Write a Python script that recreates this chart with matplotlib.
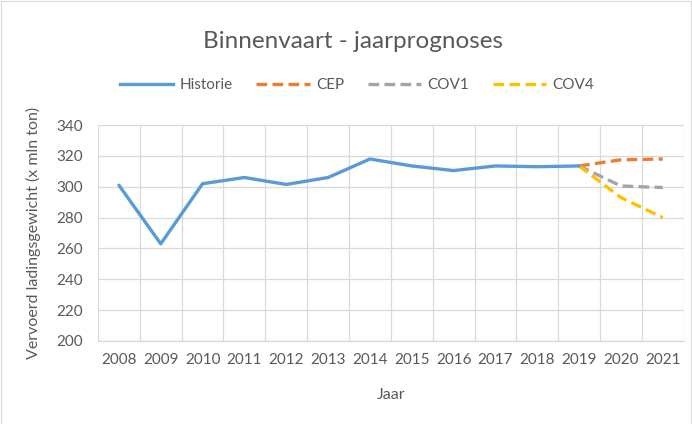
import matplotlib
matplotlib.use("Agg")
import matplotlib.pyplot as plt
from matplotlib.lines import Line2D
from matplotlib.patches import Rectangle

# data
jaren = ["2008", "2009", "2010", "2011", "2012", "2013", "2014",
         "2015", "2016", "2017", "2018", "2019", "2020", "2021"]
historie = [301, 263, 302, 306, 301.5, 306, 318, 313.5, 310.5, 313.5, 313, 313.5]
cep = [313.5, 317.5, 318]
cov1 = [313.5, 300.5, 299.5]
cov4 = [313.5, 293, 280]

plt.rcParams['font.family'] = ['Lato', 'DejaVu Sans']
tekst = '#595959'
raster = '#d9d9d9'

fig = plt.figure(figsize=(6.92, 4.24), dpi=100)
fig.patches.append(Rectangle((0.001, 0.001), 0.997, 0.997, transform=fig.transFigure,
                             fill=False, edgecolor='#d9d9d9', linewidth=0.8))
ax = fig.add_axes([0.1416, 0.1958, 0.8464, 0.5092])

x_hist = list(range(len(historie)))
x_prog = list(range(len(historie) - 1, len(jaren)))

lw = 2.4
ax.plot(x_hist, historie, color='#5B9BD5', lw=lw, solid_capstyle='round', zorder=5)
ax.plot(x_prog, cep, color='#ED7D31', lw=lw, dashes=(3.2, 1.6), zorder=4)
ax.plot(x_prog, cov1, color='#A5A5A5', lw=lw, dashes=(3.2, 1.6), zorder=4)
ax.plot(x_prog, cov4, color='#FFC000', lw=lw, dashes=(3.2, 1.6), zorder=4)

ax.set_xlim(-0.5, len(jaren) - 0.5)
ax.set_ylim(200, 340)
ax.set_yticks(range(200, 341, 20))
ax.set_xticks(range(len(jaren)))
ax.set_xticklabels(jaren)
ax.set_xticks([i - 0.5 for i in range(len(jaren) + 1)], minor=True)
ax.grid(True, which='minor', axis='x', color=raster, lw=0.9)
ax.grid(True, which='major', axis='y', color=raster, lw=0.9)
ax.tick_params(which='both', length=0)
ax.tick_params(axis='both', labelsize=11, colors=tekst)
ax.tick_params(axis='y', pad=11)
ax.tick_params(axis='x', pad=9)
for s in ['top', 'right', 'left']:
    ax.spines[s].set_visible(False)
ax.spines['bottom'].set_color(raster)
ax.spines['bottom'].set_linewidth(0.9)

fig.text(33 / 692, 1 - 233 / 424, 'Vervoerd ladingsgewicht (x mln ton)', rotation=90,
         ha='center', va='center', fontsize=11.5, color=tekst)
fig.text(391 / 692, 1 - 395 / 424, 'Jaar', ha='center', va='center',
         fontsize=11.5, color=tekst)

fig.text(353 / 692, 1 - 41 / 424, 'Binnenvaart - jaarprognoses', ha='center', va='center',
         fontsize=17.5, color=tekst)

handles = [
    Line2D([], [], color='#5B9BD5', lw=lw),
    Line2D([], [], color='#ED7D31', lw=lw, dashes=(3.2, 1.6)),
    Line2D([], [], color='#A5A5A5', lw=lw, dashes=(3.2, 1.6)),
    Line2D([], [], color='#FFC000', lw=lw, dashes=(3.2, 1.6)),
]
leg = fig.legend(handles, ['Historie', 'CEP', 'COV1', 'COV4'], loc='center',
                 bbox_to_anchor=(357 / 692, 1 - 85 / 424), ncol=4, frameon=False,
                 fontsize=11, handlelength=3.5, handletextpad=0.4, columnspacing=1.55)
for t in leg.get_texts():
    t.set_color(tekst)

fig.savefig('out.png', dpi=100)
